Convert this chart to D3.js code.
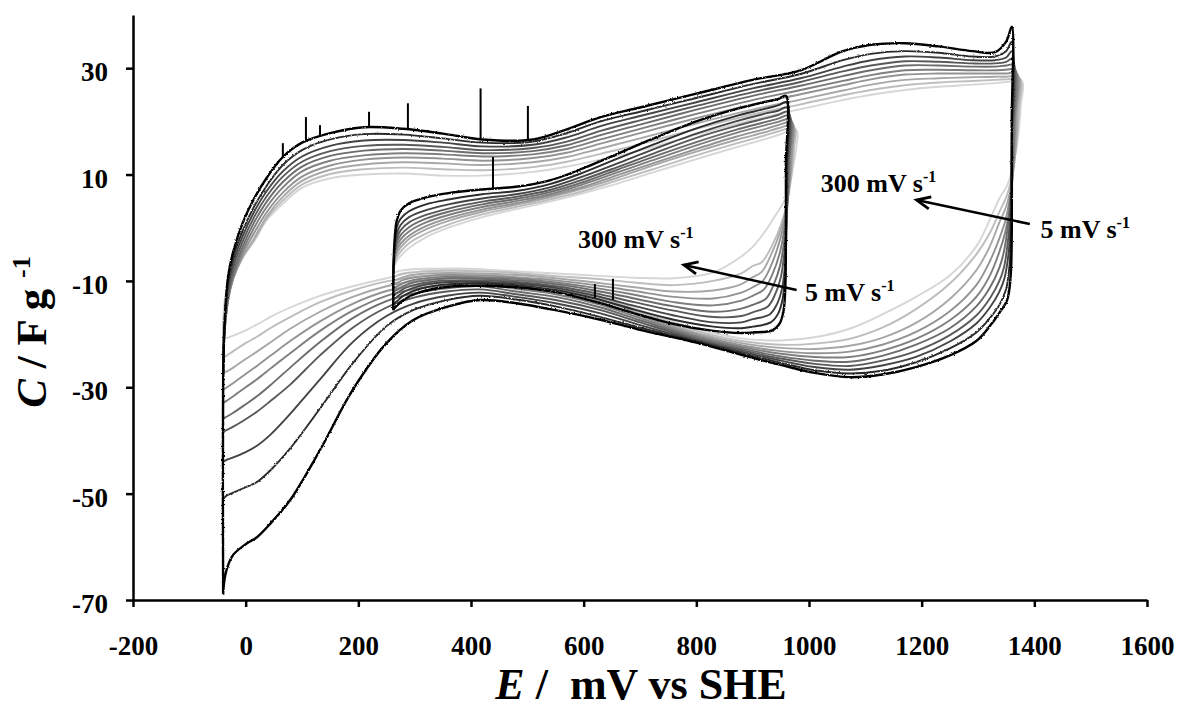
<!DOCTYPE html>
<html>
<head>
<meta charset="utf-8">
<script src="https://cdn.jsdelivr.net/npm/d3@7"></script>
<style>
  body { margin: 0; background: #fff; }
  svg text { font-family: "Liberation Serif", "Times New Roman", serif; font-weight: bold; fill: #000; }
</style>
</head>
<body>
<svg id="chart" width="1181" height="711"></svg>
<script>
// Scan rates (mV s-1) of the voltammograms, slowest to fastest
const scanRates = [5, 10, 20, 30, 50, 75, 100, 150, 200, 300];
const lineGreys = ["#000000", "#2c2c2c", "#444444", "#595959", "#6c6c6c", "#7f7f7f", "#939393", "#a7a7a7", "#bdbdbd", "#d6d6d6"];

const xTicks = [-200, 0, 200, 400, 600, 800, 1000, 1200, 1400, 1600];
const yTicks = [-70, -50, -30, -10, 10, 30];

// ---- Wide window (-40 ... 1360 mV) ----
const outerVertexE = -40;
const outerStartC = [-69, -51, -44, -38.5, -36, -33, -30.5, -27.5, -24.5, -21];
const outerAnodicE = [-40, -37, -31, -22, -5, 15, 38, 66, 100, 150, 210, 280, 350, 420, 510, 570, 630, 700, 800, 900, 985, 1060, 1110, 1170, 1230, 1290, 1330, 1350];
const outerAnodicC = [
  [-30, -17, -9, -4.5, 1, 5.5, 9.5, 13.3, 16, 17.8, 18.9, 18.6, 17.7, 16.6, 16.6, 18.5, 20.8, 22.6, 25.2, 27.8, 29.6, 33.2, 34.4, 34.7, 34.1, 33.2, 33, 35],
  [-28, -17.5, -10, -5.5, -0.5, 4, 8, 11.8, 14.6, 16.6, 17.6, 17.5, 16.8, 16, 16.2, 17.8, 20, 21.8, 24.4, 27, 28.9, 31.5, 32.7, 33.2, 32.9, 32.2, 32.2, 33.2],
  [-27, -18, -11, -6.5, -1.5, 3, 7, 10.6, 13.4, 15.4, 16.4, 16.5, 16, 15.3, 15.6, 17, 19.1, 21, 23.6, 26.2, 28.1, 30.3, 31.5, 32.2, 32, 31.5, 31.5, 32],
  [-26, -18.5, -12, -7.5, -2.5, 2, 6, 9.6, 12.4, 14.4, 15.4, 15.6, 15.2, 14.6, 15, 16.2, 18.2, 20.2, 22.9, 25.5, 27.4, 29.4, 30.5, 31.3, 31.2, 30.9, 30.9, 31.2],
  [-25, -19, -13, -8.5, -3.5, 1, 5, 8.6, 11.5, 13.5, 14.5, 14.8, 14.5, 14, 14.4, 15.5, 17.4, 19.4, 22.2, 24.8, 26.7, 28.5, 29.6, 30.5, 30.5, 30.3, 30.3, 30.5],
  [-24, -19, -13.5, -9.2, -4.3, 0, 4, 7.6, 10.6, 12.6, 13.6, 14, 13.8, 13.4, 13.8, 14.8, 16.6, 18.6, 21.4, 24, 25.9, 27.6, 28.7, 29.6, 29.7, 29.6, 29.6, 29.7],
  [-23, -18.5, -13.5, -9.6, -5, -1, 3, 6.6, 9.6, 11.7, 12.8, 13.2, 13, 12.6, 13.1, 14.1, 15.8, 17.8, 20.6, 23.2, 25.1, 26.8, 27.9, 28.8, 29, 29, 29, 29],
  [-21.5, -17.5, -13, -9.5, -5.5, -2, 2.2, 5.8, 8.8, 10.9, 11.9, 12.3, 12.1, 11.8, 12.3, 13.3, 14.9, 16.8, 19.6, 22.2, 24.1, 25.8, 26.9, 27.8, 28.1, 28.3, 28.4, 28.4],
  [-19.5, -16, -12, -9, -5.5, -2.4, 1.8, 5.1, 8.1, 10.1, 11, 11.3, 11, 10.8, 11.4, 12.4, 13.9, 15.7, 18.6, 21.3, 23.2, 24.9, 25.9, 26.8, 27.3, 27.6, 27.8, 27.9],
  [-17, -13.5, -10.5, -8, -5.5, -2.5, 1.5, 4.5, 7.5, 9.3, 10, 10.2, 9.8, 9.8, 10.5, 11.5, 12.8, 14.5, 17.5, 20.3, 22.3, 24, 25, 25.9, 26.5, 26.9, 27.2, 27.4]
];
// switching corner at the positive limit, [E, C] pairs
const outerTurn = [
  [[1360, 37.8], [1360, 20], [1360, 0], [1358, -9], [1352, -13.5]],
  [[1360, 35], [1360, 18], [1359, 0], [1356, -7], [1350, -11.5]],
  [[1360, 33.2], [1360, 16], [1358, 1], [1354, -5], [1347, -9.5]],
  [[1361, 31.8], [1360, 15], [1357, 2], [1352, -3.5], [1346, -7.5]],
  [[1363, 30.6], [1362, 18], [1358, 6], [1352, -0.5], [1346, -4.5]],
  [[1366, 29.7], [1365, 20], [1361, 9], [1355, 3], [1348, -1]],
  [[1369, 29], [1367, 21], [1363, 12], [1357, 6], [1349, 1.5]],
  [[1372, 28.4], [1370, 22], [1366, 14], [1359, 8], [1350, 4]],
  [[1375, 28], [1373, 22.5], [1368, 15.5], [1361, 10], [1351, 6]],
  [[1378, 27.5], [1376, 23], [1371, 17], [1363, 12], [1352, 8]]
];
const outerCathodicE = [1338, 1321, 1297, 1250, 1190, 1130, 1072, 1010, 950, 880, 800, 700, 630, 550, 480, 416, 357, 297, 250, 190, 132, 79, 45, 20, 0, -22, -33, -38];
const outerCathodicC = [
  [-16, -18.5, -21.3, -24, -26.2, -27.6, -28.1, -27.3, -25.8, -23.9, -21.6, -19.2, -17.3, -15.5, -14.2, -13.6, -14.9, -17.4, -21.7, -30.5, -41.8, -51.2, -55.5, -58.2, -59.5, -61.5, -64, -66.5],
  [-14.5, -17, -19.7, -22.7, -25.3, -26.9, -27.4, -26.8, -25.4, -23.6, -21.4, -18.8, -16.8, -14.8, -13.5, -12.8, -13.6, -15.5, -18.5, -25.5, -34, -41.5, -45.5, -47.8, -48.8, -49.8, -50.3, -50.8],
  [-12, -15, -18, -21.4, -24.3, -25.9, -26.7, -26.2, -25, -23.3, -21.2, -18.3, -16.1, -14.2, -13, -12.2, -12.8, -14.3, -16.6, -21.5, -28.5, -35, -38.8, -41, -42.2, -43.2, -43.6, -43.9],
  [-10, -13.3, -16.5, -20.2, -23.2, -25, -26, -25.6, -24.6, -23, -21, -17.8, -15.5, -13.6, -12.5, -11.6, -12, -13.2, -15, -18.8, -24, -29.5, -32.5, -34.6, -36, -37.4, -38, -38.3],
  [-7.5, -11.3, -14.8, -18.9, -22, -24.1, -25.2, -25, -24.2, -22.7, -20.7, -17.4, -15, -13, -12, -11, -11.4, -12.4, -13.8, -17, -21.5, -26.3, -29.5, -31.7, -33.2, -34.8, -35.5, -35.8],
  [-4.5, -9, -13, -17.4, -20.9, -23.1, -24.3, -24.3, -23.7, -22.4, -20.4, -17, -14.5, -12.5, -11.5, -10.5, -10.8, -11.6, -12.8, -15.6, -19.4, -23.6, -26.4, -28.5, -30, -31.7, -32.5, -32.8],
  [-2, -6.3, -10.8, -15.7, -19.6, -22, -23.3, -23.6, -23.2, -22.1, -20.1, -16.6, -14, -12, -11, -10, -10.2, -10.9, -11.9, -14.3, -17.6, -21.3, -24, -26, -27.5, -29.2, -30, -30.3],
  [1, -3.5, -8, -13.4, -17.9, -20.7, -22.2, -22.8, -22.6, -21.7, -19.8, -16.2, -13.5, -11.4, -10.3, -9.4, -9.5, -10.1, -11, -13, -15.8, -19, -21.5, -23.3, -24.7, -26.3, -27, -27.3],
  [3, -1, -5, -10.5, -15.3, -18.8, -20.9, -21.8, -22, -21.3, -19.4, -15.8, -13, -10.7, -9.5, -8.7, -8.8, -9.3, -10.1, -11.8, -14, -16.8, -18.8, -20.5, -21.7, -23.2, -24, -24.3],
  [5.5, 1.5, -3.5, -9, -13, -16.3, -19, -20.6, -21.2, -20.8, -19, -15.5, -12.5, -10, -8.5, -7.8, -7.7, -8.4, -9.5, -11, -12.8, -15, -16.7, -18.2, -19.3, -20.3, -20.7, -20.9]
];

// ---- Narrow window (262 ... 960 mV) ----
const innerVertexE = 262;
const innerStartC = [-15.5, -14.5, -13.6, -12.8, -12.1, -11.4, -10.7, -10, -9.2, -8.5];
const innerAnodicE = [262, 264, 268, 275, 290, 320, 360, 420, 480, 540, 600, 660, 720, 800, 870, 920, 945];
const innerAnodicC = [
  [-10, -3, 1.2, 3.2, 4.6, 5.7, 6.5, 7.2, 7.7, 8.9, 11.2, 13.9, 16.6, 20.0, 22.3, 23.6, 24.2],
  [-9.6, -3.8, 0, 1.7, 3.1, 4.4, 5.3, 6.3, 6.9, 8.2, 10.4, 13, 15.5, 18.7, 21, 22.3, 23],
  [-9.4, -4.4, -1.2, 0.5, 2, 3.3, 4.4, 5.5, 6.3, 7.6, 9.7, 12.1, 14.6, 17.7, 20, 21.4, 22],
  [-9.1, -5, -2.1, -0.5, 1, 2.4, 3.6, 4.9, 5.8, 7.1, 9.1, 11.4, 13.8, 16.9, 19.1, 20.5, 21.2],
  [-8.9, -5.5, -2.8, -1.4, 0.1, 1.7, 3.0, 4.4, 5.4, 6.7, 8.6, 10.9, 13.2, 16.1, 18.4, 19.8, 20.5],
  [-8.7, -5.9, -3.6, -2.2, -0.7, 1.0, 2.4, 3.9, 5.0, 6.3, 8.2, 10.4, 12.6, 15.5, 17.8, 19.2, 19.9],
  [-8.6, -6.3, -4.3, -3, -1.5, 0.3, 1.8, 3.4, 4.6, 6.0, 7.7, 9.9, 12.0, 14.8, 17.1, 18.5, 19.3],
  [-8.4, -6.6, -4.9, -3.7, -2.1, -0.3, 1.3, 3.0, 4.3, 5.7, 7.4, 9.4, 11.6, 14.3, 16.5, 17.9, 18.7],
  [-8.2, -6.9, -5.6, -4.5, -2.9, -1.1, 0.6, 2.5, 3.9, 5.3, 6.9, 8.9, 10.9, 13.6, 15.8, 17.3, 18.1],
  [-8, -7.2, -6.3, -5.3, -3.8, -1.8, 0, 2, 3.5, 4.9, 6.5, 8.3, 10.3, 12.9, 15.1, 16.6, 17.4]
];
const innerTurn = [
  [[959, 24.8], [959, 12], [959, -2], [958, -11], [955, -15.5], [948, -18], [935, -19.3]],
  [[960, 23.6], [960, 11], [959, -2], [957, -9.5], [953, -13.5], [945, -16.2], [932, -17.8]],
  [[961, 22.6], [961, 10.5], [960, -1], [957, -7.5], [952, -11.5], [943, -14.4], [930, -16.3]],
  [[963, 21.8], [962, 11], [960, 1], [956, -5], [950, -9.3], [940, -12.5], [927, -14.8]],
  [[965, 21.1], [964, 12], [961, 3], [956, -2.5], [949, -7], [938, -10.5], [924, -13.3]],
  [[967, 20.4], [966, 13], [962, 5], [956, -0.5], [948, -4.8], [936, -8.5], [920, -11.6]],
  [[970, 19.8], [969, 14], [964, 7], [957, 1.5], [948, -2.5], [935, -6.5], [918, -10]],
  [[972, 19.2], [971, 15], [966, 8.5], [958, 3], [948, -1], [935, -4.5], [916, -8.3]],
  [[975, 18.7], [974, 15.5], [969, 10], [961, 4.5], [950, 0.5], [937, -2.8], [916, -6.5]],
  [[978, 18.3], [978, 15.5], [972, 11.5], [965, 7.8], [955, 4.8], [942, 2.6], [920, -1.0]]
];
const innerCathodicE = [900, 880, 830, 760, 690, 620, 550, 480, 420, 360, 320, 295, 280, 270, 265];
const innerCathodicC = [
  [-19.7, -19.8, -19.4, -18.1, -16.1, -13.9, -12.1, -11.2, -10.9, -11.1, -11.8, -12.7, -13.6, -14.5, -15],
  [-18.6, -18.9, -18.6, -17.3, -15.4, -13.3, -11.7, -10.8, -10.5, -10.6, -11.2, -12, -12.8, -13.7, -14.1],
  [-17.2, -17.8, -17.8, -16.5, -14.7, -12.8, -11.3, -10.5, -10.2, -10.2, -10.7, -11.4, -12.1, -12.9, -13.3],
  [-15.9, -16.6, -16.8, -15.6, -14, -12.3, -11, -10.2, -9.9, -9.9, -10.3, -10.9, -11.5, -12.2, -12.6],
  [-14.5, -15.2, -15.8, -14.8, -13.3, -11.8, -10.6, -9.9, -9.6, -9.5, -9.9, -10.4, -11, -11.6, -11.9],
  [-12.8, -13.7, -14.6, -14, -12.6, -11.3, -10.3, -9.6, -9.3, -9.2, -9.5, -9.9, -10.4, -11, -11.2],
  [-11.2, -12.2, -13.3, -13, -11.9, -10.8, -9.9, -9.3, -9, -8.9, -9.1, -9.4, -9.8, -10.3, -10.5],
  [-9.3, -10.6, -11.8, -12, -11.2, -10.3, -9.5, -8.9, -8.6, -8.5, -8.6, -8.9, -9.3, -9.7, -9.9],
  [-7.2, -8.6, -10, -10.8, -10.3, -9.6, -9.1, -8.5, -8.2, -8.1, -8.2, -8.4, -8.6, -8.9, -9.2],
  [-3.6, -5.4, -8.4, -9.5, -9.4, -9, -8.6, -8.2, -7.9, -7.7, -7.7, -7.8, -8, -8.2, -8.4]
];

// Noise spikes on the 5 mV s-1 traces: [E, base C, tip C]
const outerSpikes = [[66, 13.3, 15.9], [107, 16.4, 20.8], [132, 17.2, 19.3], [219, 18.9, 21.8], [288, 18.5, 23.4], [417, 16.6, 26.2], [501, 16.6, 22.9]];
const innerSpikes = [[439, 7.3, 13.3], [620, -13.2, -10.6], [652, -13.6, -9.6]];

// Scan-rate annotations: text anchor [E, C] and arrow [from, to]
const annotations = [
  { rate: 300, at: [1021, 6.7] },
  { rate: 5, at: [1411, -1.9] },
  { rate: 300, at: [590, -3.8] },
  { rate: 5, at: [993, -13.8] }
];
const arrows = [
  [[1392, 0.7], [1191, 5.2]],
  [[978, -11.7], [778, -7.0]]
];

// ---------------------------------------------------------------
const svg = d3.select("#chart");
const x = d3.scaleLinear().domain([-200, 1600]).range([133, 1147]);
const y = d3.scaleLinear().domain([-70, 40]).range([600, 15]);

// measurement noise on the slow-scan traces
const defs = svg.append("defs");
const jitter = defs.append("filter").attr("id", "jitter")
  .attr("x", "-2%").attr("y", "-2%").attr("width", "104%").attr("height", "104%");
jitter.append("feTurbulence").attr("type", "fractalNoise").attr("baseFrequency", 0.7)
  .attr("numOctaves", 1).attr("seed", 4).attr("result", "n");
jitter.append("feDisplacementMap").attr("in", "SourceGraphic").attr("in2", "n")
  .attr("scale", 2.6).attr("xChannelSelector", "R").attr("yChannelSelector", "G");

function loop(vertexE, startC, aE, aC, turn, cE, cC) {
  const pts = [[vertexE, startC]];
  aE.forEach((e, j) => pts.push([e, aC[j]]));
  turn.forEach(p => pts.push(p));
  cE.forEach((e, j) => pts.push([e, cC[j]]));
  pts.push([vertexE, startC]);
  return pts;
}

const line = d3.line()
  .x(d => x(d[0]))
  .y(d => y(d[1]))
  .curve(d3.curveCatmullRom.alpha(0.5));

const order = d3.range(scanRates.length).reverse(); // fastest (lightest) drawn first

function drawFamily(g, vertexE, startC, aE, aC, turn, cE, cC, noisy) {
  order.forEach(i => {
    g.append("path")
      .attr("d", line(loop(vertexE, startC[i], aE, aC[i], turn[i], cE, cC[i])))
      .attr("fill", "none")
      .attr("stroke", lineGreys[i])
      .attr("stroke-width", i === 0 ? 2.4 : 1.9)
      .attr("stroke-linejoin", "round")
      .attr("filter", noisy.includes(i) ? "url(#jitter)" : null);
  });
}

drawFamily(svg.append("g"), outerVertexE, outerStartC, outerAnodicE, outerAnodicC, outerTurn, outerCathodicE, outerCathodicC, [0, 1]);
drawFamily(svg.append("g"), innerVertexE, innerStartC, innerAnodicE, innerAnodicC, innerTurn, innerCathodicE, innerCathodicC, [0]);

svg.append("g").selectAll("line")
  .data(outerSpikes.concat(innerSpikes))
  .join("line")
  .attr("x1", d => x(d[0])).attr("x2", d => x(d[0]))
  .attr("y1", d => y(d[1])).attr("y2", d => y(d[2]))
  .attr("stroke", "#000").attr("stroke-width", 2);

// Axes
const fmt = d => String(d);
const xAxis = svg.append("g")
  .attr("transform", `translate(0,${y(-70)})`)
  .call(d3.axisBottom(x).tickValues(xTicks).tickFormat(fmt).tickSize(7).tickSizeOuter(0).tickPadding(29));
const yAxis = svg.append("g")
  .attr("transform", `translate(${x(-200)},0)`)
  .call(d3.axisLeft(y).tickValues(yTicks).tickFormat(fmt).tickSize(7).tickSizeOuter(0).tickPadding(18));

[xAxis, yAxis].forEach(g => {
  g.select(".domain").attr("stroke", "#000").attr("stroke-width", 2.5);
  g.selectAll(".tick line").attr("stroke", "#000").attr("stroke-width", 2.5);
  g.selectAll(".tick text")
    .attr("font-family", "Liberation Serif, Times New Roman, serif")
    .attr("font-weight", "bold")
    .attr("font-size", 27)
    .attr("fill", "#000");
});
yAxis.selectAll(".tick text").attr("dy", "0.47em");

// Axis titles
const xTitle = svg.append("text")
  .attr("x", 641).attr("y", 699)
  .attr("text-anchor", "middle")
  .attr("font-size", 44)
  .attr("xml:space", "preserve");
xTitle.append("tspan").attr("font-style", "italic").text("E");
xTitle.append("tspan").text(" /  mV vs SHE");

const yTitle = svg.append("text")
  .attr("transform", "translate(46,332) rotate(-90)")
  .attr("text-anchor", "middle")
  .attr("font-size", 43);
yTitle.append("tspan").attr("font-style", "italic").text("C");
yTitle.append("tspan").text(" / F g ");
yTitle.append("tspan").attr("font-size", 26).attr("dy", -16).text("-1");

// Scan-rate labels
annotations.forEach(a => {
  const t = svg.append("text")
    .attr("x", x(a.at[0])).attr("y", y(a.at[1]))
    .attr("font-size", 26);
  t.append("tspan").text(`${a.rate} mV s`);
  t.append("tspan").attr("font-size", 16).attr("dy", -10).text("-1");
});

// Arrows pointing from slow to fast scan rate
arrows.forEach(([from, to]) => {
  const x1 = x(from[0]), y1 = y(from[1]), x2 = x(to[0]), y2 = y(to[1]);
  svg.append("line")
    .attr("x1", x1).attr("y1", y1).attr("x2", x2).attr("y2", y2)
    .attr("stroke", "#000").attr("stroke-width", 2.6);
  const ang = Math.atan2(y1 - y2, x1 - x2);
  const len = 15, spread = 0.42;
  const p1 = [x2 + len * Math.cos(ang + spread), y2 + len * Math.sin(ang + spread)];
  const p2 = [x2 + len * Math.cos(ang - spread), y2 + len * Math.sin(ang - spread)];
  svg.append("path")
    .attr("d", `M${p1[0]},${p1[1]}L${x2},${y2}L${p2[0]},${p2[1]}`)
    .attr("fill", "none").attr("stroke", "#000").attr("stroke-width", 2.8)
    .attr("stroke-linejoin", "miter");
});
</script>
</body>
</html>
